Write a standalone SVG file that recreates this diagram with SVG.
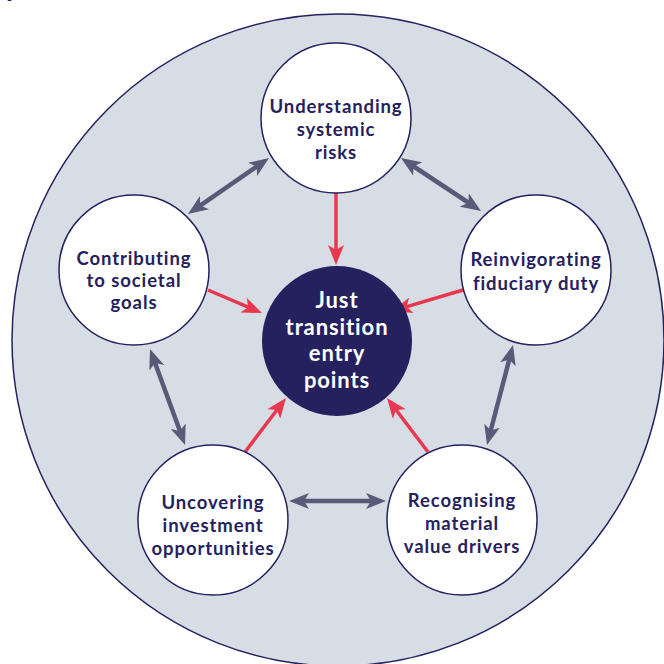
<svg xmlns="http://www.w3.org/2000/svg" width="664" height="664" viewBox="0 0 664 664">
<style>
.bg{fill:#d7dde5;stroke:#25215e;stroke-width:1.5}
.node{fill:#ffffff;stroke:#25215e;stroke-width:1.5}
.hub{fill:#25215e}
.lbl{font-family:Lato,"Open Sans","DejaVu Sans",sans-serif;font-weight:700;font-size:18.5px;letter-spacing:0.9px;fill:#25215e;text-anchor:middle}
.hubl{font-family:Lato,"Open Sans","DejaVu Sans",sans-serif;font-weight:700;font-size:22px;letter-spacing:0.9px;fill:#ffffff;text-anchor:middle}
.g{stroke:#575b78;stroke-width:4.5;fill:none;marker-start:url(#ga);marker-end:url(#ga)}
.r{stroke:#e8384f;stroke-width:3.5;fill:none;marker-end:url(#ra)}
</style>
<defs>
<marker id="ga" markerUnits="userSpaceOnUse" markerWidth="20" markerHeight="16" viewBox="0 0 20 16" refX="10" refY="8" orient="auto-start-reverse"><path d="M0,0 L20,8 L0,16 L5,8 Z" fill="#575b78"/></marker>
<marker id="ra" markerUnits="userSpaceOnUse" markerWidth="20" markerHeight="16" viewBox="0 0 20 16" refX="10" refY="8" orient="auto"><path d="M0,0 L20,8 L0,16 L5,8 Z" fill="#e8384f"/></marker>
</defs>
<rect width="664" height="664" fill="#ffffff"/>
<text x="4" y="-4" font-family="Lato,sans-serif" font-weight="700" font-size="30" fill="#25215e">y</text>
<circle class="bg" cx="338" cy="340" r="326"/>
<g id="connectors">
<line class="g" x1="196.2" y1="208.3" x2="260.8" y2="163.7"/>
<line class="g" x1="409.3" y1="163.5" x2="472.7" y2="205.5"/>
<line class="g" x1="153.4" y1="358.4" x2="181.6" y2="435.6"/>
<line class="g" x1="510.5" y1="354.7" x2="489.5" y2="435.3"/>
<line class="g" x1="299" y1="501" x2="376" y2="501"/>
<line class="r" x1="336" y1="193" x2="336" y2="255"/>
<line class="r" x1="208" y1="290" x2="252.8" y2="309.1"/>
<line class="r" x1="463" y1="290" x2="401.8" y2="308.1"/>
<line class="r" x1="245" y1="452" x2="279.9" y2="406"/>
<line class="r" x1="428" y1="452" x2="393.1" y2="406"/>
</g>
<g id="node-center">
<circle class="hub" cx="337" cy="341" r="75"/>
<text class="hubl" x="337" y="308">Just</text>
<text class="hubl" x="337" y="335">transition</text>
<text class="hubl" x="337" y="361">entry</text>
<text class="hubl" x="337" y="388">points</text>
</g>
<g id="node-systemic">
<circle class="node" cx="336" cy="118" r="75"/>
<text class="lbl" x="336" y="113">Understanding</text>
<text class="lbl" x="336" y="136">systemic</text>
<text class="lbl" x="336" y="159">risks</text>
</g>
<g id="node-societal">
<circle class="node" cx="134" cy="270" r="75"/>
<text class="lbl" x="134" y="265">Contributing</text>
<text class="lbl" x="134" y="287">to societal</text>
<text class="lbl" x="134" y="309">goals</text>
</g>
<g id="node-fiduciary">
<circle class="node" cx="536" cy="270" r="75"/>
<text class="lbl" x="536" y="266">Reinvigorating</text>
<text class="lbl" x="536" y="290">fiduciary duty</text>
</g>
<g id="node-investment">
<circle class="node" cx="213" cy="520" r="75"/>
<text class="lbl" x="213" y="509">Uncovering</text>
<text class="lbl" x="213" y="532">investment</text>
<text class="lbl" x="213" y="555">opportunities</text>
</g>
<g id="node-value">
<circle class="node" cx="462" cy="520" r="75"/>
<text class="lbl" x="462" y="507">Recognising</text>
<text class="lbl" x="462" y="530">material</text>
<text class="lbl" x="462" y="553">value drivers</text>
</g>
</svg>
